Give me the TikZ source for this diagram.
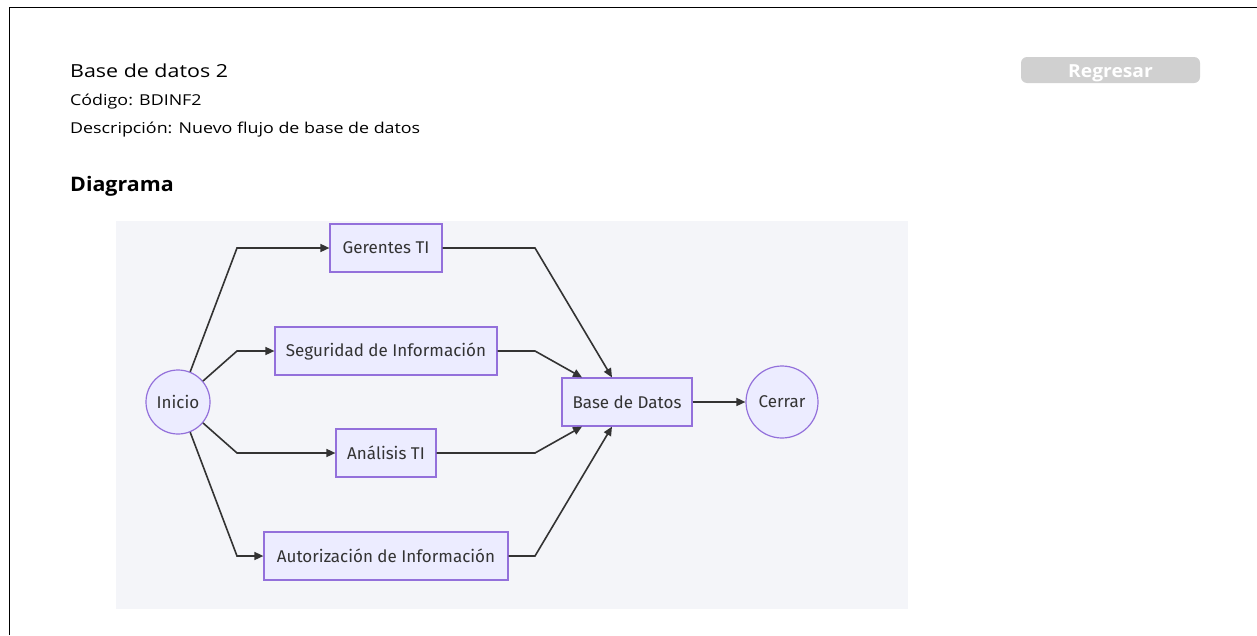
\documentclass[tikz,border=0pt]{standalone}
\usepackage{fontspec}
\setmainfont{Open Sans}
\newfontfamily\hdrfont[FakeStretch=1.19]{Open Sans}
\newfontfamily\boldhdr[FakeStretch=1.07]{Open Sans Bold}
\newfontfamily\nodefont{Fira Sans}
\usetikzlibrary{arrows.meta}
\definecolor{nodefill}{HTML}{ECECFF}
\definecolor{nodeline}{HTML}{9370DB}
\definecolor{edgecol}{HTML}{333333}
\definecolor{diagbg}{HTML}{F4F5F9}
\definecolor{btn}{HTML}{D0D0D0}
\tikzset{
  boxnode/.style={draw=nodeline, fill=nodefill, line width=1.2pt, rectangle, minimum height=48pt, inner sep=0pt, font=\nodefont\fontsize{17}{20}\selectfont, text=edgecol},
  circnode/.style={draw=nodeline, fill=nodefill, line width=1.2pt, circle, inner sep=0pt, font=\nodefont\fontsize{17}{20}\selectfont, text=edgecol},
  edge/.style={draw=edgecol, line width=1.6pt, -{Triangle[length=9pt,width=8pt]}},
  hdr/.style={anchor=base west, inner sep=0pt, text=black}
}
\begin{document}
\begin{tikzpicture}[x=1pt,y=-1pt]
\useasboundingbox (0,0) rectangle (1257,635);
\fill[white] (0,0) rectangle (1257,635);
\draw[line width=1pt] (9,635) -- (9,7) -- (1257,7);
% header
\node[hdr, font=\hdrfont\fontsize{18}{22}\selectfont] (title) at (70,77) {Base de datos 2};
\node[hdr, font=\hdrfont\fontsize{15}{18}\selectfont] (code) at (70,105) {Código: BDINF2};
\node[hdr, font=\hdrfont\fontsize{15}{18}\selectfont] (desc) at (70,133) {Descripción: Nuevo flujo de base de datos};
\node[hdr, font=\boldhdr\fontsize{20}{24}\selectfont] (diag) at (70,191) {Diagrama};
\fill[btn, rounded corners=6pt] (1021,57) rectangle (1200,83);
\node[anchor=base, inner sep=0pt, text=white, font=\boldhdr\fontsize{18}{22}\selectfont] (back) at (1110.5,77) {Regresar};
% diagram background
\fill[diagbg] (116,221) rectangle (908,609);
% nodes
\node[circnode, minimum size=64pt] (inicio) at (178,402) {Inicio};
\node[boxnode, minimum width=112pt] (ger) at (386,248) {Gerentes TI};
\node[boxnode, minimum width=222pt] (seg) at (386,351) {Seguridad de Información};
\node[boxnode, minimum width=100pt] (ana) at (386,453) {Análisis TI};
\node[boxnode, minimum width=244pt] (aut) at (386,556) {Autorización de Información};
\node[boxnode, minimum width=130pt] (bd) at (627,402) {Base de Datos};
\node[circnode, minimum size=72pt] (cer) at (782,402) {Cerrar};
% edges
\draw[edge] (inicio.68) -- (237,248) -- (ger.west);
\draw[edge] (inicio.40) -- (237,351) -- (seg.west);
\draw[edge] (inicio.-40) -- (237,453) -- (ana.west);
\draw[edge] (inicio.-68) -- (237,556) -- (aut.west);
\draw[edge] (ger.east) -- (535,248) -- ([xshift=-15pt]bd.north);
\draw[edge] (seg.east) -- (535,351) -- ([xshift=-45pt]bd.north);
\draw[edge] (ana.east) -- (535,453) -- ([xshift=-45pt]bd.south);
\draw[edge] (aut.east) -- (535,556) -- ([xshift=-15pt]bd.south);
\draw[edge] (bd.east) -- (cer.west);
\end{tikzpicture}
\end{document}
